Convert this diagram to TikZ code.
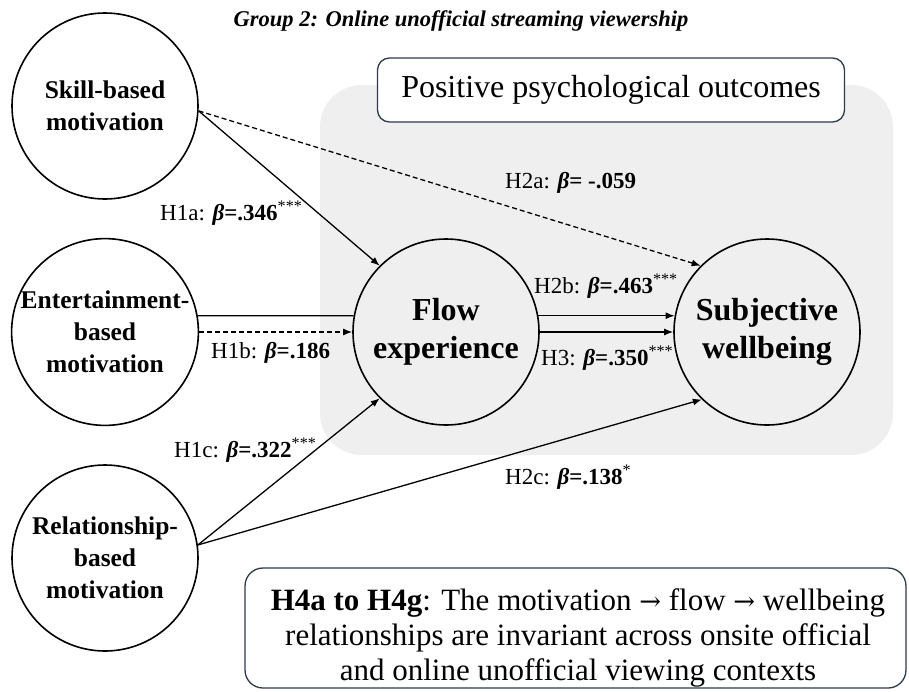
\documentclass[tikz,border=0pt]{standalone}
\usepackage{fontspec}
\setmainfont{Liberation Serif}
\newfontfamily\arrowfont{DejaVu Serif}
\usetikzlibrary{arrows.meta}
\definecolor{panelgray}{HTML}{EFEFEF}
\definecolor{boxline}{HTML}{2E3B4A}
\newcommand{\myarrow}{{\arrowfont\fontsize{26}{30}\selectfont →}}
\begin{document}
\begin{tikzpicture}[x=1pt,y=-1pt,
  motiv/.style={circle,draw,line width=1.6pt,minimum size=186pt,inner sep=0pt,align=center,
     font=\fontsize{25.5}{32}\selectfont\bfseries},
  outc/.style={circle,draw,line width=1.6pt,minimum size=186pt,inner sep=0pt,align=center,
     font=\fontsize{32}{38}\selectfont\bfseries},
  conn/.style={line width=1.3pt},
  arr/.style={conn,-{Latex[length=9pt,width=7pt]}},
  dsh/.style={dash pattern=on 5pt off 3pt},
  elab/.style={font=\fontsize{23}{27}\selectfont,anchor=west,inner sep=0pt},
  rbox/.style={draw=boxline,line width=1.3pt,fill=white,rounded corners=12pt}
]
\useasboundingbox (0,0) rectangle (909,691);
\fill[white] (0,0) rectangle (909,691);
% gray panel
\fill[panelgray,rounded corners=42pt] (320,85) rectangle (893,455);
% title
\node[font=\fontsize{22.5}{27}\selectfont\bfseries\itshape] (title) at (461,21) {Group 2: Online unofficial streaming viewership};
% outcomes box
\node[rbox,minimum width=467pt,minimum height=64pt,font=\fontsize{32}{38}\selectfont] (pos) at (611,90) {Positive psychological outcomes};
% circles
\node[motiv] (skill) at (105,106) {Skill-based\\motivation};
\node[motiv] (ent) at (105,332) {Entertainment-\\based\\motivation};
\node[motiv] (rel) at (105,558) {Relationship-\\based\\motivation};
\node[outc] (flow) at (446,332) {Flow\\experience};
\node[outc] (subj) at (767,332) {Subjective\\wellbeing};
% connectors
\draw[arr] (skill.-3) -- (flow.135);
\draw[arr,dsh] (skill.-3) -- (subj.135);
\draw[conn] (ent.10) -- (flow.170);
\draw[arr,dsh] (ent.0) -- (flow.180);
\draw[arr] (flow.10) -- (subj.170);
\draw[arr] (flow.0) -- (subj.180);
\draw[arr] (rel.8) -- (flow.225);
\draw[arr] (rel.8) -- (subj.226);
% labels
\node[elab] (l1a) at (160,213) {H1a: \textbf{\textit{β}=.346}\textsuperscript{***}};
\node[elab] (l2a) at (505,183) {H2a: \textbf{\textit{β}= -.059}};
\node[elab] (l1b) at (211,353) {H1b: \textbf{\textit{β}=.186}};
\node[elab] (l2b) at (534,286) {H2b: \textbf{\textit{β}=.463}\textsuperscript{***}};
\node[elab] (l3) at (541,358) {H3: \textbf{\textit{β}=.350}\textsuperscript{***}};
\node[elab] (l1c) at (174,450) {H1c: \textbf{\textit{β}=.322}\textsuperscript{***}};
\node[elab] (l2c) at (505,477) {H2c: \textbf{\textit{β}=.138}\textsuperscript{*}};
% bottom box
\draw[boxline,line width=1.3pt,rounded corners=18pt] (245,568) rectangle (906,688);
\node[font=\fontsize{31}{35}\selectfont,align=center] (h4) at (578,638)
  {\textbf{H4a to H4g}: The motivation \myarrow{} flow \myarrow{} wellbeing\\relationships are invariant across onsite official\\and online unofficial viewing contexts};
\end{tikzpicture}
\end{document}
